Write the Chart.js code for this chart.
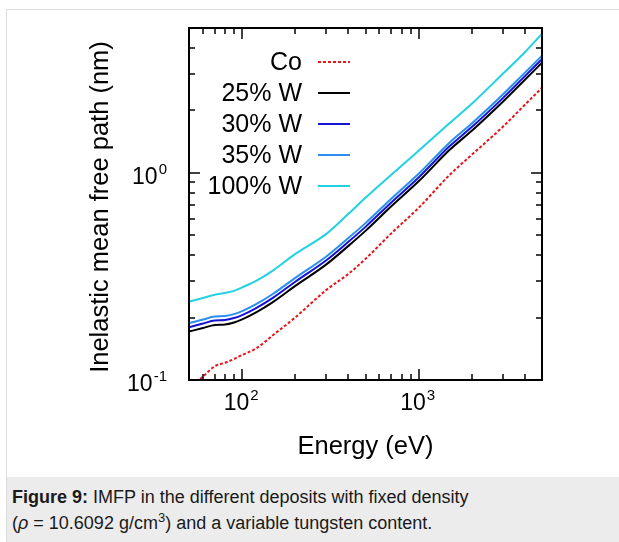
<!DOCTYPE html>
<html><head><meta charset="utf-8">
<script src="https://cdn.jsdelivr.net/npm/chart.js@4"></script>
<style>
html,body{margin:0;padding:0;width:619px;height:542px;overflow:hidden;background:#fff;}
#frame{position:absolute;left:6px;top:9px;width:700px;height:600px;border-left:1px solid #dcdcdc;border-top:1px solid #dcdcdc;}
#cap{position:absolute;left:7px;top:477px;width:700px;height:80px;background:#ececec;font-family:"Liberation Sans",Arial,sans-serif;font-size:18px;color:#1a1a1a;}
#cap p{margin:0;position:absolute;left:5px;top:7px;line-height:26px;white-space:nowrap;}
#cap sup{font-size:13px;line-height:0;vertical-align:7px;}
canvas{position:absolute;left:0;top:0;}
</style></head>
<body>
<div id="frame"></div>
<div id="cap"><p><b>Figure 9:</b> IMFP in the different deposits with fixed density<br>(<i>ρ</i> = 10.6092 g/cm<sup>3</sup>) and a variable tungsten content.</p></div>
<canvas id="c" width="619" height="542"></canvas>
<script>
// ---- data ----
const energies = [50, 60, 70, 80, 90, 100, 120, 150, 200, 300, 400, 500, 700, 1000, 1500, 2000, 3000, 4000, 5000];
const imfpCo   = [0.0905, 0.1040, 0.1165, 0.1212, 0.1263, 0.1321, 0.1420, 0.1650, 0.2004, 0.2722, 0.3252, 0.3842, 0.5103, 0.6776, 0.9779, 1.222, 1.668, 2.131, 2.574];
const imfpW25  = [0.1712, 0.1783, 0.1844, 0.1854, 0.1896, 0.1960, 0.2119, 0.2382, 0.2845, 0.3614, 0.4440, 0.5245, 0.6890, 0.9097, 1.291, 1.595, 2.203, 2.814, 3.400];
const imfpW30  = [0.1799, 0.1873, 0.1937, 0.1947, 0.1990, 0.2057, 0.2223, 0.2497, 0.2981, 0.3783, 0.4644, 0.5484, 0.7198, 0.9495, 1.346, 1.662, 2.294, 2.928, 3.536];
const imfpW35  = [0.1881, 0.1958, 0.2024, 0.2034, 0.2079, 0.2149, 0.2322, 0.2608, 0.3111, 0.3947, 0.4844, 0.5717, 0.7501, 0.9891, 1.402, 1.730, 2.386, 3.044, 3.675];
const imfpW100 = [0.2389, 0.2489, 0.2580, 0.2632, 0.2692, 0.2798, 0.3008, 0.3381, 0.4061, 0.5074, 0.6339, 0.7571, 0.9779, 1.277, 1.738, 2.154, 3.008, 3.820, 4.694];
const seriesLabels = ['Co', '25% W', '30% W', '35% W', '100% W'];

const xTickValues = [60, 70, 80, 90, 100, 200, 300, 400, 500, 600, 700, 800, 900, 1000, 2000, 3000, 4000];
const yTickValues = [0.2, 0.3, 0.4, 0.5, 0.6, 0.7, 0.8, 0.9, 1, 2, 3, 4];
const xLabelValues = [100, 1000];
const xLabelExps = ['2', '3'];
const yLabelValues = [0.1, 1];
const yLabelExps = ['-1', '0'];

const FONT = '"Liberation Sans", Arial, Helvetica, sans-serif';
const toPts = arr => arr.map((v, i) => ({x: energies[i], y: v}));
const isMajor = v => Math.abs(Math.log10(v) - Math.round(Math.log10(v))) < 1e-6;

const styles = [
  {color: '#e3161c', dash: [3, 2]},
  {color: '#000000', dash: []},
  {color: '#1414d2', dash: []},
  {color: '#2a8ff0', dash: []},
  {color: '#22d2e2', dash: []}
];
const values = [imfpCo, imfpW25, imfpW30, imfpW35, imfpW100];

const datasets = values.map((arr, i) => ({
  label: seriesLabels[i],
  data: toPts(arr),
  borderColor: styles[i].color,
  borderDash: styles[i].dash,
  borderWidth: 2,
  pointRadius: 0,
  cubicInterpolationMode: 'monotone',
  fill: false
}));

function sup(ctx, base, exp, x, y, align) {
  ctx.font = '23px ' + FONT;
  const wb = ctx.measureText(base).width;
  ctx.font = '15px ' + FONT;
  const we = ctx.measureText(exp).width;
  const total = wb + 1 + we;
  const x0 = align === 'center' ? x - total / 2 : x - total;
  ctx.textAlign = 'left';
  ctx.textBaseline = 'alphabetic';
  ctx.font = '23px ' + FONT;
  ctx.fillText(base, x0, y);
  ctx.font = '15px ' + FONT;
  ctx.fillText(exp, x0 + wb + 1, y - 10);
}

const framePlugin = {
  id: 'framePlugin',
  afterDatasetsDraw(chart) {
    const {ctx, chartArea: a, scales: {x, y}} = chart;
    ctx.save();
    ctx.strokeStyle = '#000';
    ctx.lineWidth = 1.5;
    const line = (x1, y1, x2, y2) => { ctx.beginPath(); ctx.moveTo(x1, y1); ctx.lineTo(x2, y2); ctx.stroke(); };
    xTickValues.forEach(v => {
      const px = Math.round(x.getPixelForValue(v));
      const L = isMajor(v) ? 11 : 6;
      line(px, a.bottom, px, a.bottom - L);
      line(px, a.top, px, a.top + L);
    });
    yTickValues.forEach(v => {
      const py = Math.round(y.getPixelForValue(v));
      const L = isMajor(v) ? 11 : 6;
      line(a.left, py, a.left + L, py);
      line(a.right, py, a.right - L, py);
    });
    ctx.lineWidth = 2;
    ctx.strokeRect(a.left, a.top, a.right - a.left, a.bottom - a.top);

    ctx.fillStyle = '#000';
    xLabelValues.forEach((v, i) => sup(ctx, '10', xLabelExps[i], x.getPixelForValue(v) - 1, a.bottom + 30, 'center'));
    yLabelValues.forEach((v, i) => sup(ctx, '10', yLabelExps[i], a.left - 22, y.getPixelForValue(v) + 11, 'right'));

    // axis titles
    ctx.font = '25.5px ' + FONT;
    ctx.textAlign = 'center';
    ctx.textBaseline = 'alphabetic';
    ctx.fillText('Energy (eV)', (a.left + a.right) / 2, a.bottom + 74);
    ctx.save();
    ctx.translate(108, (a.top + a.bottom) / 2 + 3);
    ctx.rotate(-Math.PI / 2);
    ctx.fillText('Inelastic mean free path (nm)', 0, 0);
    ctx.restore();

    // legend
    const rows = [62, 93, 124, 155, 186];
    chart.data.datasets.forEach((ds, i) => {
      ctx.font = '25px ' + FONT;
      ctx.textAlign = 'right';
      ctx.textBaseline = 'middle';
      ctx.fillStyle = '#000';
      ctx.fillText(ds.label, 302, rows[i] + 1);
      ctx.strokeStyle = ds.borderColor;
      ctx.lineWidth = 2;
      ctx.setLineDash(ds.borderDash);
      line(318, rows[i], 350, rows[i]);
      ctx.setLineDash([]);
    });
    ctx.restore();
  }
};

new Chart(document.getElementById('c'), {
  type: 'line',
  data: {datasets},
  options: {
    responsive: false,
    animation: false,
    layout: {padding: {left: 189, right: 77, top: 28, bottom: 162}},
    plugins: {legend: {display: false}, tooltip: {enabled: false}},
    scales: {
      x: {type: 'logarithmic', min: 50, max: 5000, display: false},
      y: {type: 'logarithmic', min: 0.1, max: 5, display: false}
    }
  },
  plugins: [framePlugin]
});
</script>
</body></html>
